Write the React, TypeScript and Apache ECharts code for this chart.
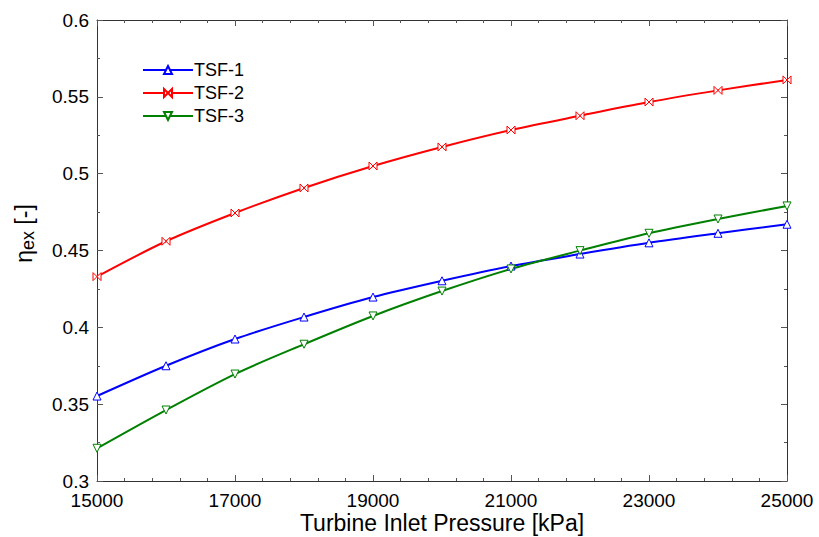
import React, { useEffect, useRef } from "react";
import * as echarts from "echarts";

const pressures = [15000, 16000, 17000, 18000, 19000, 20000, 21000, 22000, 23000, 24000, 25000];
const tsf1 = [0.3553, 0.375, 0.3924, 0.4067, 0.4197, 0.4303, 0.4399, 0.4477, 0.455, 0.4612, 0.4671];
const tsf2 = [0.433, 0.456, 0.4744, 0.4907, 0.505, 0.5174, 0.5284, 0.5377, 0.5466, 0.5542, 0.561];
const tsf3 = [0.3213, 0.3462, 0.3696, 0.389, 0.4074, 0.4236, 0.438, 0.4499, 0.4612, 0.4705, 0.479];
const seriesNames = ["TSF-1", "TSF-2", "TSF-3"];

const FONT = "'Liberation Sans', Arial, sans-serif";

export default function App() {
  const ref = useRef<HTMLDivElement>(null);
  useEffect(() => {
    if (!ref.current) return;
    const chart = echarts.init(ref.current, undefined, { renderer: "svg" });
    const axisLine = { show: true, lineStyle: { color: "#333", width: 1 } };
    const tick = { show: true, inside: true, length: 6, lineStyle: { color: "#555" } };
    const minor = { show: true, splitNumber: 5, length: 3, lineStyle: { color: "#555" } };
    const mk = (vals: number[]) => pressures.map((p, i) => [p, vals[i]]);
    chart.setOption({
      animation: false,
      backgroundColor: "#fff",
      grid: { left: 97, right: 32, top: 20, bottom: 56, containLabel: false, outerBoundsMode: "none" },
      legend: {
        left: 137,
        top: 56,
        orient: "vertical",
        itemWidth: 50,
        itemHeight: 10,
        itemGap: 5,
        data: seriesNames,
        textStyle: { fontFamily: FONT, fontSize: 18, color: "#000", padding: [0, 0, 0, -4] },
      },
      xAxis: [
        {
          type: "value",
          min: 15000,
          max: 25000,
          interval: 2000,
          name: "Turbine Inlet Pressure [kPa]",
          nameLocation: "middle",
          nameGap: 30,
          nameMoveOverlap: false,
          nameTextStyle: { fontFamily: FONT, fontSize: 23, color: "#000" },
          axisLine,
          axisTick: tick,
          minorTick: minor,
          splitLine: { show: false },
          axisLabel: {
            fontFamily: FONT,
            fontSize: 19,
            color: "#000",
            margin: 10,
            lineHeight: 19,
            formatter: (v: number) => String(v),
          },
        },
        {
          type: "value",
          position: "top",
          min: 15000,
          max: 25000,
          interval: 2000,
          axisLine,
          axisTick: tick,
          minorTick: minor,
          splitLine: { show: false },
          axisLabel: { show: false },
        },
      ],
      yAxis: [
        {
          type: "value",
          min: 0.3,
          max: 0.6,
          interval: 0.05,
          name: "{a|η}{b|ex}{a| [-]}",
          nameLocation: "middle",
          nameGap: 60,
          nameRotate: 90,
          nameMoveOverlap: false,
          nameTextStyle: {
            fontFamily: FONT,
            color: "#000",
            padding: [0, 0, 0, 34],
            rich: {
              a: { fontFamily: FONT, fontSize: 23, color: "#000" },
              b: { fontFamily: FONT, fontSize: 18, color: "#000", verticalAlign: "bottom", padding: [9, 0, 0, 0] },
            },
          },
          axisLine,
          axisTick: tick,
          minorTick: { ...minor, splitNumber: 2 },
          splitLine: { show: false },
          axisLabel: {
            fontFamily: FONT,
            fontSize: 19,
            color: "#000",
            margin: 8,
            formatter: (v: number) => String(parseFloat(v.toFixed(2))),
          },
        },
        {
          type: "value",
          position: "right",
          min: 0.3,
          max: 0.6,
          interval: 0.05,
          axisLine,
          axisTick: tick,
          minorTick: { ...minor, splitNumber: 2 },
          splitLine: { show: false },
          axisLabel: { show: false },
        },
      ],
      series: [
        {
          name: seriesNames[0],
          type: "line",
          data: mk(tsf1),
          smooth: 0.3,
          symbol: "triangle",
          symbolSize: 8,
          lineStyle: { color: "#0000ff", width: 2 },
          itemStyle: { color: "#fff", borderColor: "#0000ff", borderWidth: 1 },
        },
        {
          name: seriesNames[1],
          type: "line",
          data: mk(tsf2),
          smooth: 0.3,
          symbol: "path://M0,0 L10,10 L10,0 L0,10 Z",
          symbolSize: 8,
          lineStyle: { color: "#ff0000", width: 2 },
          itemStyle: { color: "#fff", borderColor: "#ff0000", borderWidth: 1 },
        },
        {
          name: seriesNames[2],
          type: "line",
          data: mk(tsf3),
          smooth: 0.3,
          symbol: "triangle",
          symbolRotate: 180,
          symbolSize: 8,
          lineStyle: { color: "#008000", width: 2 },
          itemStyle: { color: "#fff", borderColor: "#008000", borderWidth: 1 },
        },
      ],
    });
    return () => chart.dispose();
  }, []);
  return <div ref={ref} style={{ width: 819, height: 537, position: "absolute", left: 0, top: 0 }} />;
}
